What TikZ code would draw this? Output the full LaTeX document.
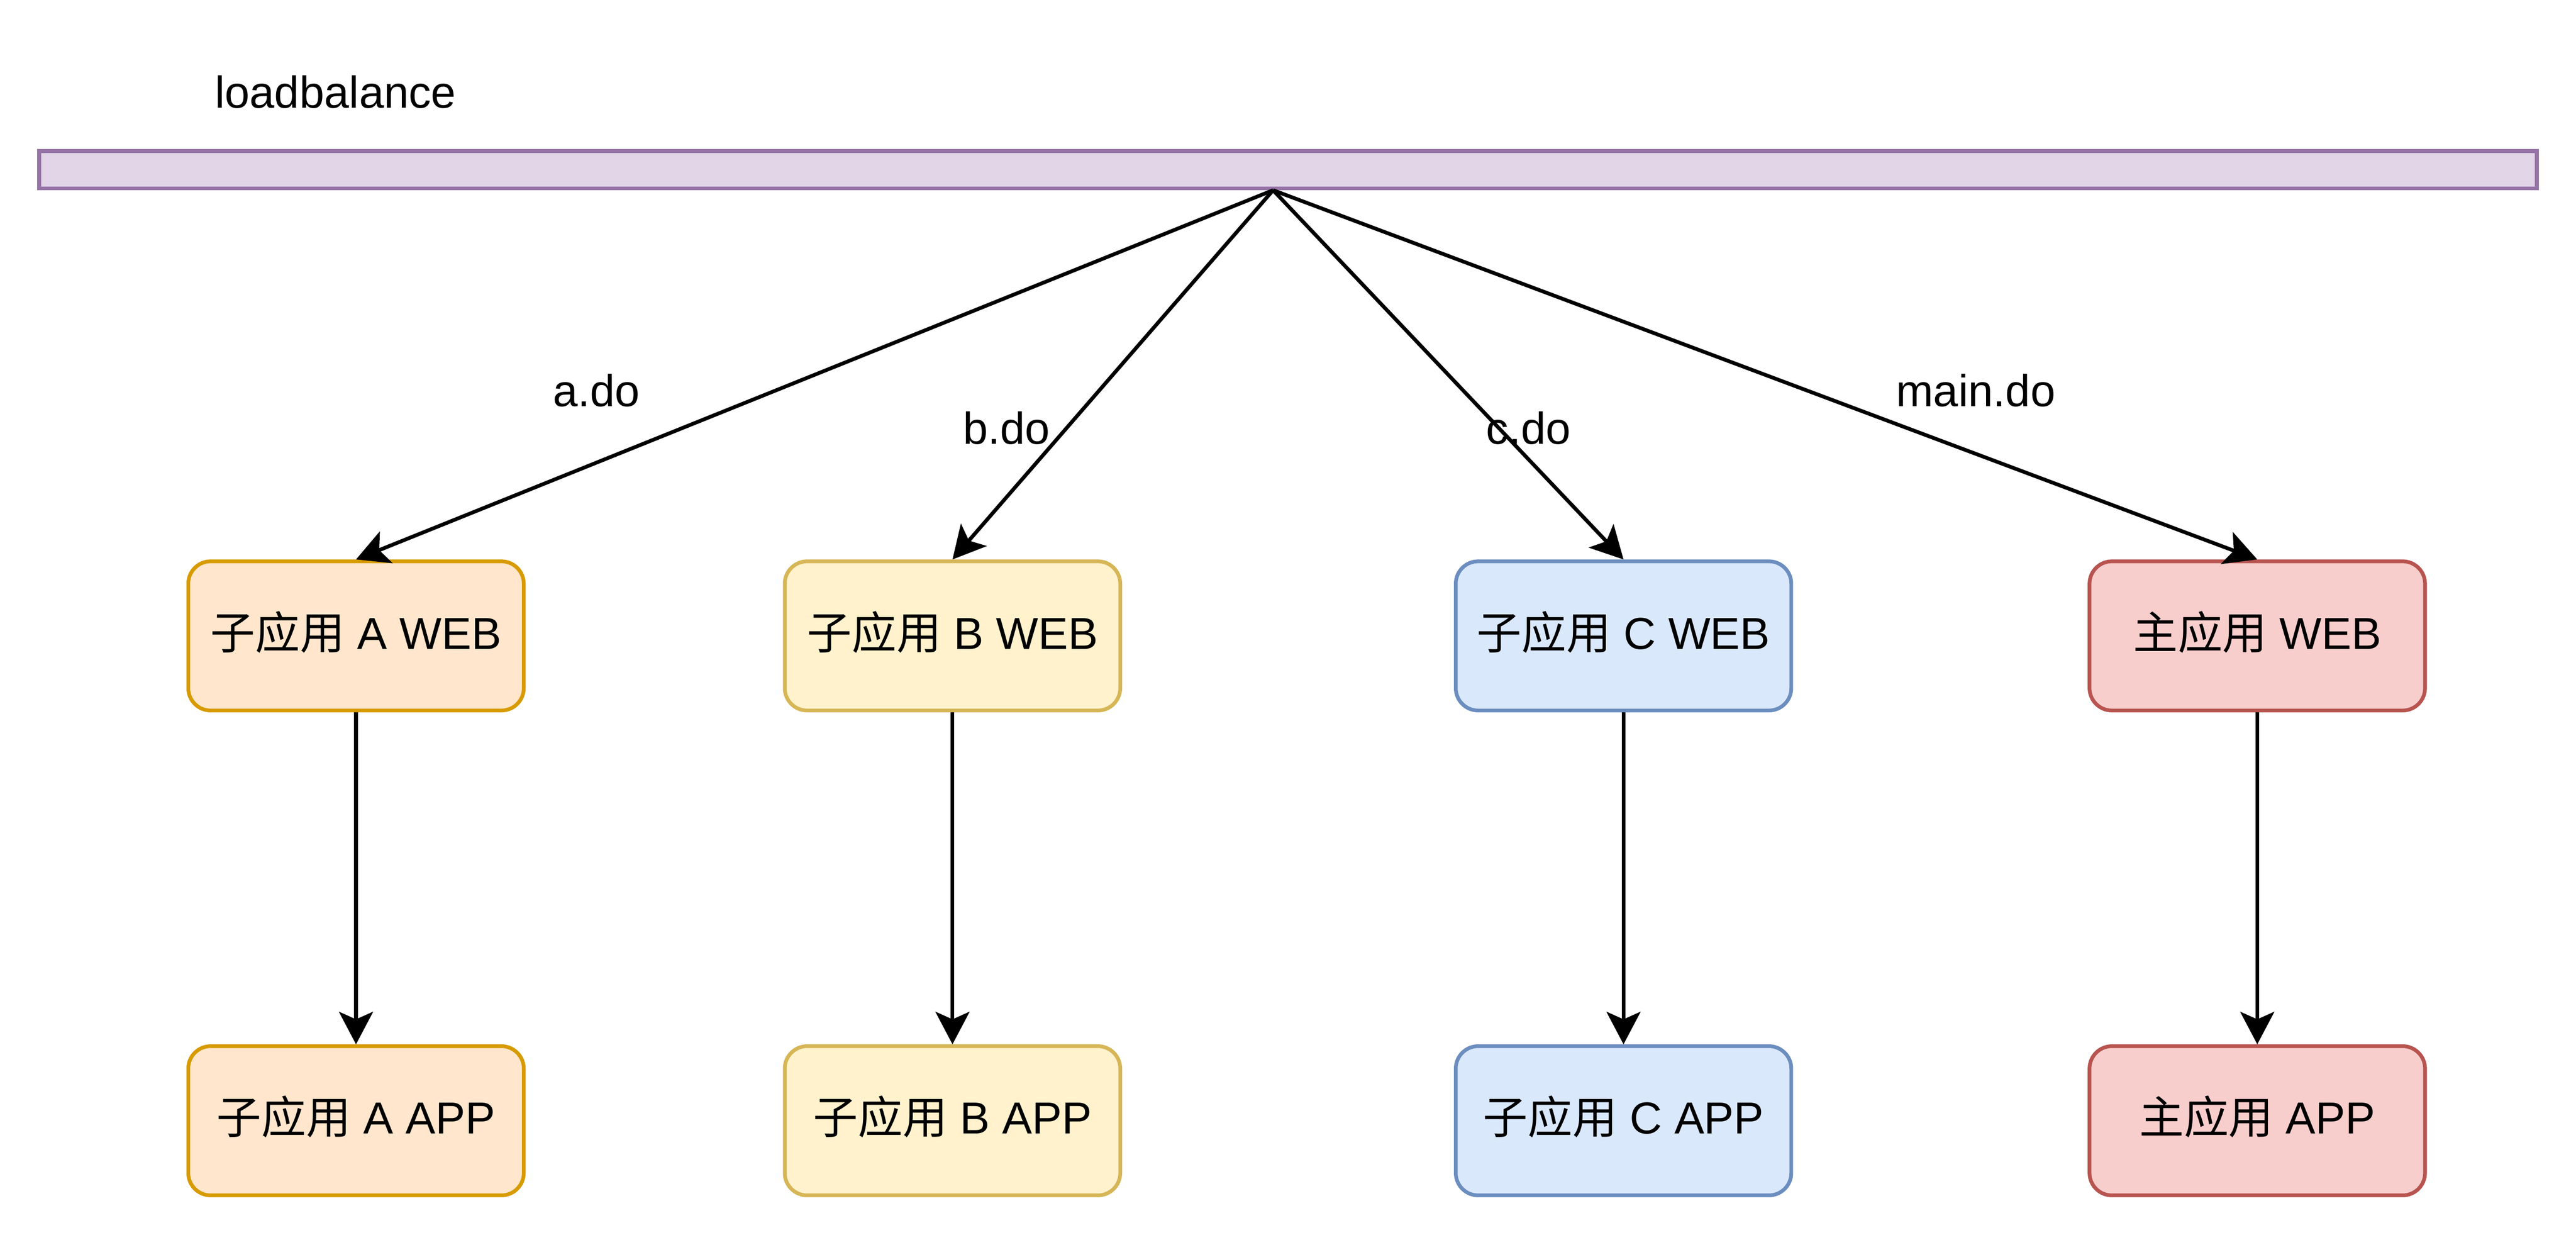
\documentclass[tikz,border=0pt]{standalone}
\usepackage{fontspec}
\setmainfont{Liberation Sans}
\newfontfamily\cjk{Noto Sans CJK SC}
\usetikzlibrary{arrows.meta}
\definecolor{lbfill}{RGB}{225,213,231}
\definecolor{lbdraw}{RGB}{150,115,166}
\definecolor{afill}{RGB}{255,230,204}
\definecolor{adraw}{RGB}{215,155,0}
\definecolor{bfill}{RGB}{255,242,204}
\definecolor{bdraw}{RGB}{214,182,86}
\definecolor{cfill}{RGB}{218,232,252}
\definecolor{cdraw}{RGB}{108,142,191}
\definecolor{mfill}{RGB}{248,206,204}
\definecolor{mdraw}{RGB}{184,84,80}
\tikzset{every picture/.style={line width=1pt}}
\tikzset{
  appbox/.style={draw, rounded corners=6pt, minimum width=90pt, minimum height=40pt,
    inner sep=0pt, text height=8.6pt, text depth=1.6pt, font=\fontsize{12pt}{14pt}\selectfont},
  lbl/.style={anchor=base, inner sep=0pt, font=\fontsize{12pt}{14pt}\selectfont},
  arr/.style={-{Stealth[length=8.7pt,width=9.1pt,inset=2pt]}}
}

\begin{document}
\begin{tikzpicture}[x=1pt,y=1pt,yscale=-1,xscale=1]
\useasboundingbox (-0.5,-0.5) rectangle (690.5,330.5);

%Shape: Rectangle [loadbalance bar]
\node [draw=lbdraw, fill=lbfill, minimum width=670pt, minimum height=10pt, inner sep=0pt] (lb) at (345,45) {};
\coordinate (lbout) at ([xshift=-4pt]lb.south);

%Shape: Rounded Rectangle [web row]
\node [appbox, draw=adraw, fill=afill] (aweb) at (95,170) {{\cjk 子应用} A WEB};
\node [appbox, draw=bdraw, fill=bfill] (bweb) at (255,170) {{\cjk 子应用} B WEB};
\node [appbox, draw=cdraw, fill=cfill] (cweb) at (435,170) {{\cjk 子应用} C WEB};
\node [appbox, draw=mdraw, fill=mfill] (mweb) at (605,170) {{\cjk 主应用} WEB};
%Shape: Rounded Rectangle [app row]
\node [appbox, draw=adraw, fill=afill] (aapp) at (95,300) {{\cjk 子应用} A APP};
\node [appbox, draw=bdraw, fill=bfill] (bapp) at (255,300) {{\cjk 子应用} B APP};
\node [appbox, draw=cdraw, fill=cfill] (capp) at (435,300) {{\cjk 子应用} C APP};
\node [appbox, draw=mdraw, fill=mfill] (mapp) at (605,300) {{\cjk 主应用} APP};

%Straight Lines
\draw [arr] (lbout) -- (aweb.north);
\draw [arr] (lbout) -- (bweb.north);
\draw [arr] (lbout) -- (cweb.north);
\draw [arr] (lbout) -- (mweb.north);
%Straight Lines
\draw [arr] (aweb) -- (aapp);
\draw [arr] (bweb) -- (bapp);
\draw [arr] (cweb) -- (capp);
\draw [arr] (mweb) -- (mapp);

% Text Node
\node [lbl] (lbtxt) at (89.5,28.5) {loadbalance};
% Text Node
\node [lbl] (ado) at (159.5,108.5) {a.do};
% Text Node
\node [lbl] (bdo) at (269.5,118.5) {b.do};
% Text Node
\node [lbl] (cdo) at (409.5,118.5) {c.do};
% Text Node
\node [lbl] (maindo) at (529.5,108.5) {main.do};

\end{tikzpicture}
\end{document}
